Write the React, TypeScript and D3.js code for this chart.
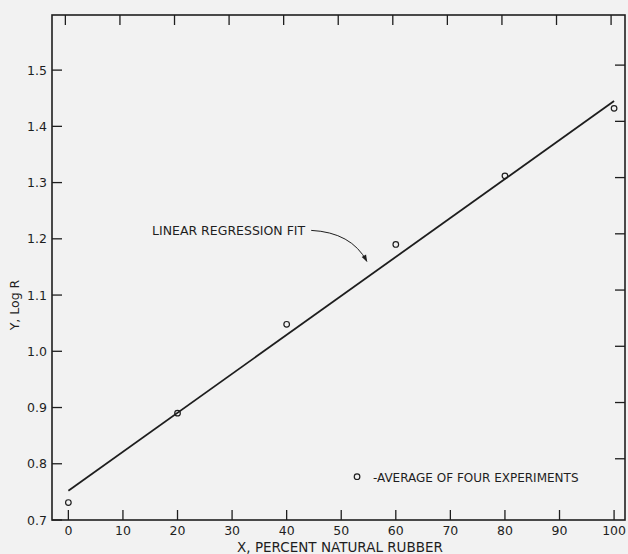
import React from "react";
import * as d3 from "d3";

const xTicks = [0, 10, 20, 30, 40, 50, 60, 70, 80, 90, 100];
const yTicks = [0.7, 0.8, 0.9, 1.0, 1.1, 1.2, 1.3, 1.4, 1.5];
const yTickLabels = ["0.7", "0.8", "0.9", "1.0", "1.1", "1.2", "1.3", "1.4", "1.5"];

// averages of four experiments
const pctRubber = [0, 20, 40, 60, 80, 100];
const logR = [0.731, 0.89, 1.048, 1.19, 1.312, 1.432];

// regression line ends
const fitX = [0, 100];
const fitY = [0.752, 1.445];

const W = 628;
const H = 554;
const margin = { top: 15, right: 3, bottom: 34, left: 52 };

export default function App() {
  const x = d3.scaleLinear().domain([-3, 102]).range([margin.left, W - margin.right]);
  const y = d3.scaleLinear().domain([0.7, 1.598]).range([H - margin.bottom, margin.top]);
  const x0 = x.range()[0];
  const x1 = x.range()[1];
  const y0 = y.range()[0];
  const y1 = y.range()[1];
  const tick = 10;
  const ink = "#1e1e1e";
  const font = "'DejaVu Sans', sans-serif";

  const line = d3
    .line<number>()
    .x((d) => x(fitX[d]))
    .y((d) => y(fitY[d]));

  // annotation arrow pointing at the fit line
  const ax = x(44.5);
  const ay = y(1.215);
  const tx = x(54.7);
  const ty = y(1.16);
  const arrowPath = `M${ax},${ay} Q${ax + 40},${ay + 2} ${tx},${ty}`;

  return (
    <svg width={W} height={H} style={{ display: "block", position: "absolute", left: 0, top: 0 }}>
      <defs>
        <marker id="arr" viewBox="0 0 10 10" refX="9" refY="5" markerWidth="9" markerHeight="7" orient="auto">
          <path d="M0,1.5 L10,5 L0,8.5 Z" fill={ink} />
        </marker>
      </defs>
      <rect width={W} height={H} fill="#f2f2f2" />
      <rect x={x0} y={y1} width={x1 - x0} height={y0 - y1} fill="none" stroke={ink} strokeWidth={1.6} />

      {xTicks.map((t) => (
        <g key={"x" + t}>
          <line x1={x(t)} x2={x(t)} y1={y0} y2={y0 - tick} stroke={ink} strokeWidth={1.3} />
          <line x1={x(t) - 3} x2={x(t) - 3} y1={y1} y2={y1 + tick} stroke={ink} strokeWidth={1.3} />
          <text x={x(t)} y={y0 + 14.5} textAnchor="middle" fontFamily={font} fontSize={12.5} fill={ink}>
            {t}
          </text>
        </g>
      ))}

      {yTicks.map((t, i) => (
        <g key={"y" + t}>
          <line x1={x0} x2={x0 + tick} y1={y(t)} y2={y(t)} stroke={ink} strokeWidth={1.3} />
          {i > 0 && (
            <line x1={x1} x2={x1 - tick} y1={y(t) - 5} y2={y(t) - 5} stroke={ink} strokeWidth={1.3} />
          )}
          <text x={x0 - 5} y={y(t) + 4.5} textAnchor="end" fontFamily={font} fontSize={12.5} fill={ink}>
            {yTickLabels[i]}
          </text>
        </g>
      ))}

      <path d={line([0, 1]) || ""} fill="none" stroke={ink} strokeWidth={1.8} />

      {pctRubber.map((p, i) => (
        <circle key={"p" + p} cx={x(p)} cy={y(logR[i])} r={2.8} fill="none" stroke={ink} strokeWidth={1.2} />
      ))}

      <text x={ax - 6} y={ay + 5} textAnchor="end" fontFamily={font} fontSize={12.5} fill={ink}>
        LINEAR REGRESSION FIT
      </text>
      <path d={arrowPath} fill="none" stroke={ink} strokeWidth={1} markerEnd="url(#arr)" />

      <circle cx={x(52.9)} cy={y(0.777)} r={2.8} fill="none" stroke={ink} strokeWidth={1.2} />
      <text x={x(55.8)} y={y(0.777) + 5} fontFamily={font} fontSize={12} fill={ink}>
        -AVERAGE OF FOUR EXPERIMENTS
      </text>

      <text x={340} y={551.5} textAnchor="middle" fontFamily={font} fontSize={13.5} fill={ink}>
        X, PERCENT NATURAL RUBBER
      </text>
      <text
        transform={`translate(19, 305) rotate(-90)`}
        textAnchor="middle"
        fontFamily={font}
        fontSize={12.5}
        fill={ink}
      >
        Y, Log R
      </text>
    </svg>
  );
}
